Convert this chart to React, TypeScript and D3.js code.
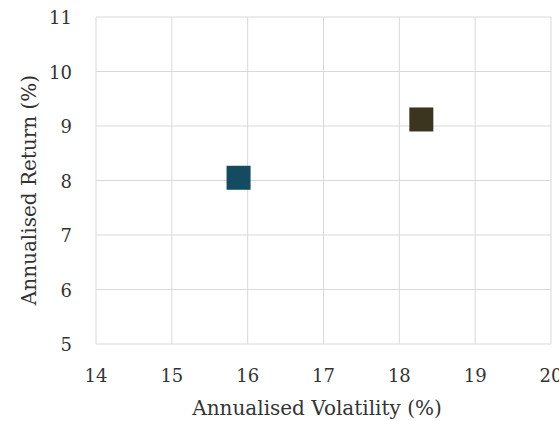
import React, { useRef, useEffect } from 'react';
import * as d3 from 'd3';

const names = ['Portfolio A', 'Portfolio B'];
const volatility = [15.88, 18.29];
const annualReturn = [8.05, 9.12];
const colors = ['#154b61', '#3b3520'];
const xTicks = [14, 15, 16, 17, 18, 19, 20];
const yTicks = [5, 6, 7, 8, 9, 10, 11];

const App = () => {
  const svgRef = useRef<SVGSVGElement>(null);
  const width = 559;
  const height = 421;
  const margin = { top: 17, right: 8, bottom: 77, left: 96 };

  useEffect(() => {
    const svg = d3.select(svgRef.current);
    svg.selectAll('*').remove();
    const font = '"DejaVu Serif", serif';

    const x = d3.scaleLinear().domain([14, 20]).range([margin.left, width - margin.right]);
    const y = d3.scaleLinear().domain([5, 11]).range([height - margin.bottom, margin.top]);

    const grid = svg.append('g');
    grid
      .selectAll('.vx')
      .data(xTicks)
      .join('line')
      .attr('x1', (d) => x(d))
      .attr('x2', (d) => x(d))
      .attr('y1', y(11))
      .attr('y2', y(5))
      .attr('stroke', '#d9d9d9')
      .attr('stroke-width', 1);
    grid
      .selectAll('.hy')
      .data(yTicks)
      .join('line')
      .attr('x1', x(14))
      .attr('x2', x(20))
      .attr('y1', (d) => y(d))
      .attr('y2', (d) => y(d))
      .attr('stroke', '#d9d9d9')
      .attr('stroke-width', 1);

    // tick labels
    svg
      .append('g')
      .selectAll('text')
      .data(xTicks)
      .join('text')
      .attr('x', (d) => x(d))
      .attr('y', y(5) + 38)
      .attr('text-anchor', 'middle')
      .attr('font-family', font)
      .attr('font-size', 18)
      .attr('fill', '#333')
      .text((d) => d);

    svg
      .append('g')
      .selectAll('text')
      .data(yTicks)
      .join('text')
      .attr('x', x(14) - 24)
      .attr('y', (d) => y(d) + 7)
      .attr('text-anchor', 'end')
      .attr('font-family', font)
      .attr('font-size', 18)
      .attr('fill', '#333')
      .text((d) => d);

    const size = 24;
    svg
      .append('g')
      .selectAll('rect')
      .data(names)
      .join('rect')
      .attr('x', (d, i) => x(volatility[i]) - size / 2)
      .attr('y', (d, i) => y(annualReturn[i]) - size / 2)
      .attr('width', size)
      .attr('height', size)
      .attr('fill', (d, i) => colors[i]);

    // axis titles
    svg
      .append('text')
      .attr('x', 317)
      .attr('y', 415)
      .attr('text-anchor', 'middle')
      .attr('font-family', font)
      .attr('font-size', 20)
      .attr('fill', '#333')
      .text('Annualised Volatility (%)');

    svg
      .append('text')
      .attr('transform', `translate(36, 190) rotate(-90)`)
      .attr('text-anchor', 'middle')
      .attr('font-family', font)
      .attr('font-size', 20)
      .attr('fill', '#333')
      .text('Annualised Return (%)');
  }, []);

  return (
    <div style={{ position: 'absolute', left: 0, top: 0 }}>
      <svg ref={svgRef} width={width} height={height}></svg>
    </div>
  );
};

export default App;
